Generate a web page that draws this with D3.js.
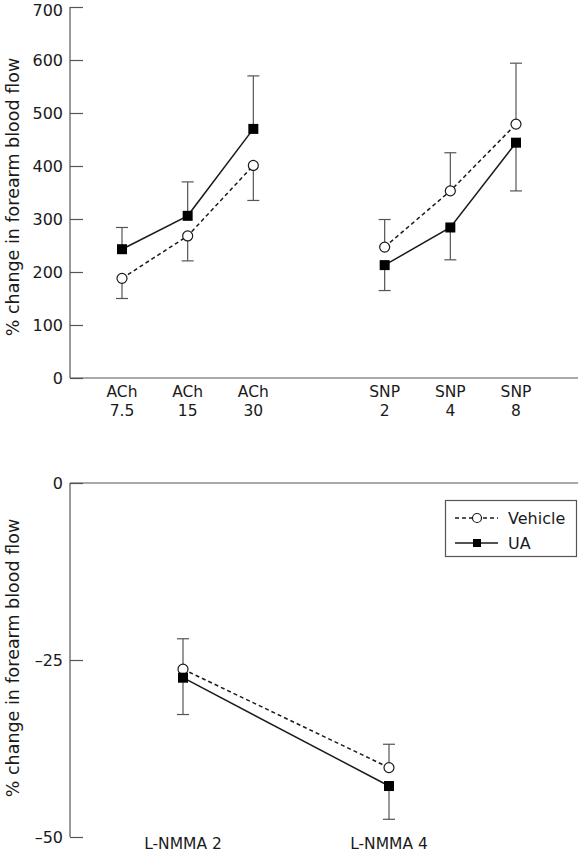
<!DOCTYPE html>
<html><head><meta charset="utf-8">
<script src="https://cdn.jsdelivr.net/npm/d3@7"></script>
<style>
html,body{margin:0;padding:0;background:#fff;}
svg text{font-family:"DejaVu Sans",sans-serif;fill:#1a1a1a;}
</style></head><body>
<svg id="chart" width="578" height="852"></svg>
<script>
// ---------- data ----------
const topCategories = [["ACh","7.5"],["ACh","15"],["ACh","30"],["SNP","2"],["SNP","4"],["SNP","8"]];
const topSlots = [0,1,2,4,5,6];
const topVehicle = [188, 268, 401, 247, 353, 479];
const topVehicleErr = [38, 47, 66, 52, 72, 115];
const topUA = [243, 306, 470, 213, 284, 444];
const topUAErr = [41, 64, 100, 48, 61, 91];
const topTicks = [0,100,200,300,400,500,600,700];

const botCategories = ["L-NMMA 2","L-NMMA 4"];
const botVehicle = [-26.3, -40.2];
const botVehicleErr = [4.3, 3.3];
const botUA = [-27.5, -42.8];
const botUAErr = [5.2, 4.7];
const botTicks = [0,-25,-50];
const botTickLabels = ["0","\u201325","\u201350"];

const yLabel = "% change in forearm blood flow";
const legendNames = ["Vehicle","UA"];

// ---------- drawing ----------
const svg = d3.select("#chart");
const axisColor = "#555";
const lineColor = "#1a1a1a";
const fs = 15.5;

function drawSeries(g, xs, vals, errs, otherVals, y){
  const pts = vals.map((v,i)=>({x:xs[i], v, e:errs[i], up: v >= otherVals[i]}));
  pts.forEach(p=>{
    const end = p.up ? p.v + p.e : p.v - p.e;
    g.append("line").attr("x1",p.x).attr("x2",p.x).attr("y1",y(p.v)).attr("y2",y(end))
      .attr("stroke",axisColor).attr("stroke-width",1.2);
    g.append("line").attr("x1",p.x-6).attr("x2",p.x+6).attr("y1",y(end)).attr("y2",y(end))
      .attr("stroke",axisColor).attr("stroke-width",1.2);
  });
  return pts;
}
function drawLine(g, groups, y, dashed){
  groups.forEach(pts=>{
    g.append("path").attr("d", d3.line().x(p=>p.x).y(p=>y(p.v))(pts))
      .attr("fill","none").attr("stroke",lineColor).attr("stroke-width",1.5)
      .attr("stroke-dasharray", dashed ? "4,3" : null);
  });
}
function drawMarkers(g, pts, y, marker){
  pts.forEach(p=>{
    if(marker==="circle"){
      g.append("circle").attr("cx",p.x).attr("cy",y(p.v)).attr("r",5)
        .attr("fill","#fff").attr("stroke",lineColor).attr("stroke-width",1.2);
    } else {
      g.append("rect").attr("x",p.x-5).attr("y",y(p.v)-5).attr("width",10).attr("height",10)
        .attr("fill","#000");
    }
  });
}
function styleAxis(sel){
  sel.selectAll("path,line").attr("stroke",axisColor).attr("stroke-width",1.2);
  sel.selectAll("text").attr("font-size",16).attr("fill","#1a1a1a").style("font-family","'DejaVu Sans', sans-serif");
}

// ----- top panel -----
const xTop = d3.scaleLinear().domain([0,6]).range([122,516]);
const yTop = d3.scaleLinear().domain([0,700]).range([378,7]);
const gT = svg.append("g");
const yAxT = gT.append("g").attr("transform","translate(70,0)")
  .call(d3.axisRight(yTop).tickValues(topTicks).tickSize(13).tickSizeOuter(0).tickFormat(d3.format("d")));
yAxT.select(".domain").remove();
yAxT.append("line").attr("x1",0).attr("x2",0).attr("y1",yTop(700)).attr("y2",yTop(0));
yAxT.selectAll(".tick text").attr("x",-7).attr("text-anchor","end")
  .attr("dy", d => d === 700 ? "0.5em" : "0.36em");
styleAxis(yAxT);
gT.append("line").attr("x1",70).attr("x2",578).attr("y1",yTop(0)).attr("y2",yTop(0))
  .attr("stroke",axisColor).attr("stroke-width",1.2);
topCategories.forEach((c,i)=>{
  const t = gT.append("text").attr("x",xTop(topSlots[i])).attr("text-anchor","middle").attr("font-size",fs);
  t.append("tspan").attr("x",xTop(topSlots[i])).attr("y",397).text(c[0]);
  t.append("tspan").attr("x",xTop(topSlots[i])).attr("y",416).text(c[1]);
});
const xsTop = topSlots.map(s=>xTop(s));
const vPtsT = drawSeries(gT, xsTop, topVehicle, topVehicleErr, topUA, yTop);
const uPtsT = drawSeries(gT, xsTop, topUA, topUAErr, topVehicle, yTop);
drawLine(gT, [vPtsT.slice(0,3), vPtsT.slice(3)], yTop, true);
drawLine(gT, [uPtsT.slice(0,3), uPtsT.slice(3)], yTop, false);
drawMarkers(gT, vPtsT, yTop, "circle");
drawMarkers(gT, uPtsT, yTop, "square");
gT.append("text").attr("transform","translate(19,197) rotate(-90)")
  .attr("text-anchor","middle").attr("font-size",17.5).text(yLabel);

// ----- bottom panel -----
const xBot = d3.scalePoint().domain(botCategories).range([183,389]);
const yBot = d3.scaleLinear().domain([-50,0]).range([837,483]);
const gB = svg.append("g");
const yAxB = gB.append("g").attr("transform","translate(70,0)")
  .call(d3.axisRight(yBot).tickValues(botTicks).tickSize(13).tickSizeOuter(0).tickFormat((d,i)=>botTickLabels[i]));
yAxB.select(".domain").remove();
yAxB.append("line").attr("x1",0).attr("x2",0).attr("y1",yBot(0)).attr("y2",yBot(-50));
yAxB.selectAll(".tick text").attr("x",-7).attr("text-anchor","end").attr("dy","0.36em");
styleAxis(yAxB);
gB.append("line").attr("x1",70).attr("x2",578).attr("y1",yBot(0)).attr("y2",yBot(0))
  .attr("stroke",axisColor).attr("stroke-width",1.2);
botCategories.forEach(c=>{
  gB.append("text").attr("x",xBot(c)).attr("y",849).attr("text-anchor","middle").attr("font-size",fs).text(c);
});
const xsBot = botCategories.map(c=>xBot(c));
const vPtsB = drawSeries(gB, xsBot, botVehicle, botVehicleErr, botUA, yBot);
const uPtsB = drawSeries(gB, xsBot, botUA, botUAErr, botVehicle, yBot);
drawLine(gB, [vPtsB], yBot, true);
drawLine(gB, [uPtsB], yBot, false);
drawMarkers(gB, vPtsB, yBot, "circle");
drawMarkers(gB, uPtsB, yBot, "square");
gB.append("text").attr("transform","translate(19,658) rotate(-90)")
  .attr("text-anchor","middle").attr("font-size",17.5).text(yLabel);

// ----- legend -----
const lg = svg.append("g");
lg.append("rect").attr("x",445.5).attr("y",500.5).attr("width",131).attr("height",56)
  .attr("fill","#fff").attr("stroke",axisColor).attr("stroke-width",1.2);
legendNames.forEach((n,i)=>{
  const ly = 518 + i*25;
  lg.append("line").attr("x1",455).attr("x2",498).attr("y1",ly).attr("y2",ly)
    .attr("stroke",lineColor).attr("stroke-width",1.5).attr("stroke-dasharray", i===0 ? "4,3" : null);
  if(i===0){
    lg.append("circle").attr("cx",477).attr("cy",ly).attr("r",4.5).attr("fill","#fff").attr("stroke",lineColor).attr("stroke-width",1.2);
  } else {
    lg.append("rect").attr("x",473).attr("y",ly-4).attr("width",8).attr("height",8).attr("fill","#000");
  }
  lg.append("text").attr("x",508).attr("y",ly).attr("dy","0.36em").attr("font-size",16).text(n);
});
</script>
</body></html>
